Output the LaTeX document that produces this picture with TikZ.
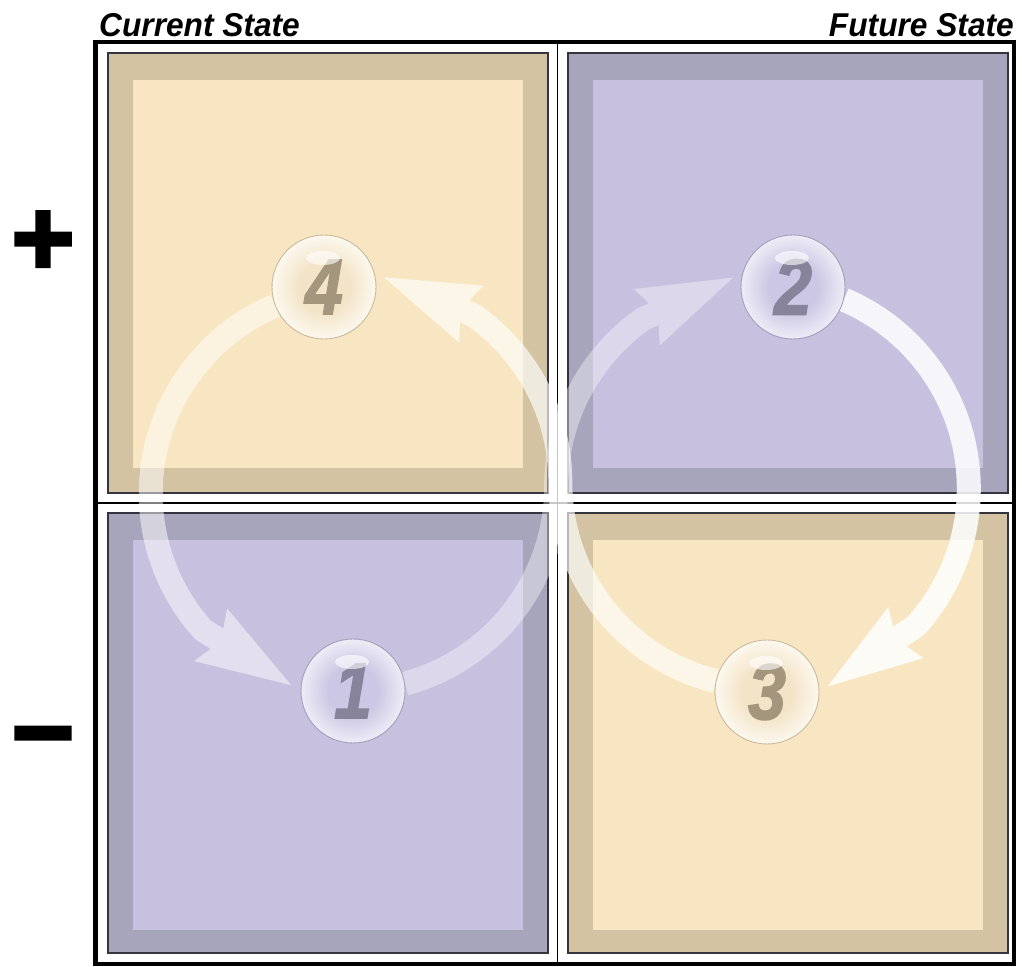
\documentclass[tikz,border=0pt]{standalone}
\usepackage{fontspec}
\usepackage{graphicx}
\usepackage{tikz}
\usetikzlibrary{arrows.meta}
\setmainfont{Liberation Sans}
\newfontfamily\labelfont{Liberation Sans}
\newfontfamily\digitfamily{Liberation Sans}[BoldItalicFeatures={FakeBold=2}]
\newfontfamily\signfamily{Liberation Sans}[BoldFeatures={FakeBold=3}]

% panel colours
\definecolor{tanout}{HTML}{D3C3A3}
\definecolor{tanin}{HTML}{F7E6C1}
\definecolor{lilout}{HTML}{A7A5BC}
\definecolor{lilin}{HTML}{C7C0DF}
\definecolor{panelline}{HTML}{34343E}
% glass balls
\definecolor{tanrim}{HTML}{C9BA9C}
\definecolor{lilrim}{HTML}{A29FB8}
\definecolor{tannum}{HTML}{A4957D}
\definecolor{lilnum}{HTML}{86839A}
\definecolor{tanglassA}{HTML}{F3E4C7}
\definecolor{tanglassB}{HTML}{FCF8EF}
\definecolor{lilglassA}{HTML}{CCC7E4}
\definecolor{lilglassB}{HTML}{EEECF6}

\pgfdeclareradialshading{glasstan}{\pgfpoint{0bp}{0bp}}{color(0bp)=(tanglassA); color(12bp)=(tanglassA); color(25bp)=(tanglassB); color(50bp)=(tanglassB)}
\pgfdeclareradialshading{glasslil}{\pgfpoint{0bp}{0bp}}{color(0bp)=(lilglassA); color(12bp)=(lilglassA); color(25bp)=(lilglassB); color(50bp)=(lilglassB)}

\pgfdeclarelayer{back}
\pgfdeclarelayer{flows}
\pgfsetlayers{back,flows,main}

\newcommand\ballfont{\digitfamily\bfseries\itshape\fontsize{79}{79}\selectfont}
\newcommand\headfont{\labelfont\bfseries\itshape\fontsize{33}{33}\selectfont}
\newcommand\markfont{\signfamily\bfseries\fontsize{108}{108}\selectfont}
\newcommand\balldigit[1]{\scalebox{0.86}[1]{#1}}

\tikzset{
  panel/.style={fill=#1, draw=panelline, line width=1.3},
  panelcore/.style={fill=#1},
  frame/.style={draw=black, line width=4.5},
  divider/.style={draw=black, line width=1.2},
  flow/.style={line width=24, white, line join=round,
    -{Stealth[length=95pt, width=62pt, inset=12pt, line width=0pt]}},
  ball/.style={circle, minimum size=104, inner sep=0, line width=0.9, shade, font=\ballfont},
  tanball/.style={ball, shading=glasstan, draw=tanrim, text=tannum},
  lilball/.style={ball, shading=glasslil, draw=lilrim, text=lilnum},
  gleam/.style={fill=white, opacity=0.62},
  head/.style={font=\headfont, inner sep=0},
  sign/.style={font=\markfont, inner sep=0, anchor=base},
}

\begin{document}
\begin{tikzpicture}[x=1pt,y=1pt]
\useasboundingbox (0,0) rectangle (1022,966);

% ---- quadrant panels and frame
\begin{pgfonlayer}{back}
  \fill[white] (0,0) rectangle (1022,966);
  \draw[panel=tanout] (108,473) rectangle (548,913);
  \fill[panelcore=tanin] (133,498) rectangle (523,886);
  \draw[panel=lilout] (568,473) rectangle (1008,913);
  \fill[panelcore=lilin] (593,498) rectangle (983,886);
  \draw[panel=lilout] (108,13) rectangle (548,453);
  \fill[panelcore=lilin] (133,36) rectangle (523,426);
  \draw[panel=tanout] (568,13) rectangle (1008,453);
  \fill[panelcore=tanin] (593,36) rectangle (983,426);
  \draw[divider] (557.5,2) -- (557.5,924);
  \draw[divider] (95.5,463) -- (1014,463);
  \draw[frame] (95.5,2) rectangle (1014,924);
\end{pgfonlayer}

% ---- headings and axis signs
\node[head, anchor=base west] (current) at (99,929) {\scalebox{0.96}[1]{Current State}};
\node[head, anchor=base east] (future) at (1014,929) {\scalebox{0.96}[1]{Future State}};
\node[sign] (plus) at (43,691) {+};
\node[sign] (minus) at (43,197) {−};

% ---- numbered glass balls
\node[tanball] (n4) at (324,679) {\balldigit{4}};
\node[lilball] (n2) at (793,679) {\balldigit{2}};
\node[lilball] (n1) at (353,275) {\balldigit{1}};
\node[tanball] (n3) at (767,274) {\balldigit{3}};

\foreach \b in {n1,n2,n3,n4}
  \fill[gleam] (\b.center) ++(-1,29) ellipse[x radius=17, y radius=7];

% ---- circulating arrows
\begin{pgfonlayer}{flows}
  \begin{scope}[transparency group, opacity=0.5]
    \draw[flow, shorten >=11pt] (n4.201) arc[start angle=113, end angle=222, radius=204] -- (n1.180);
  \end{scope}
  \begin{scope}[transparency group, opacity=0.38]
    \draw[flow, shorten >=10pt] (n1.8) arc[start angle=-75, end angle=0, radius=204]
      arc[start angle=180, end angle=125, radius=205] -- (n2.165);
  \end{scope}
  \begin{scope}[transparency group, opacity=0.85]
    \draw[flow, shorten >=10pt] (n2.346) arc[start angle=67, end angle=-42, radius=205] -- (n3.0);
  \end{scope}
  \begin{scope}[transparency group, opacity=0.65]
    \draw[flow, shorten >=10pt] (n3.168) arc[start angle=256, end angle=180, radius=205]
      arc[start angle=0, end angle=55, radius=204] -- (n4.15);
  \end{scope}
\end{pgfonlayer}
\end{tikzpicture}
\end{document}
